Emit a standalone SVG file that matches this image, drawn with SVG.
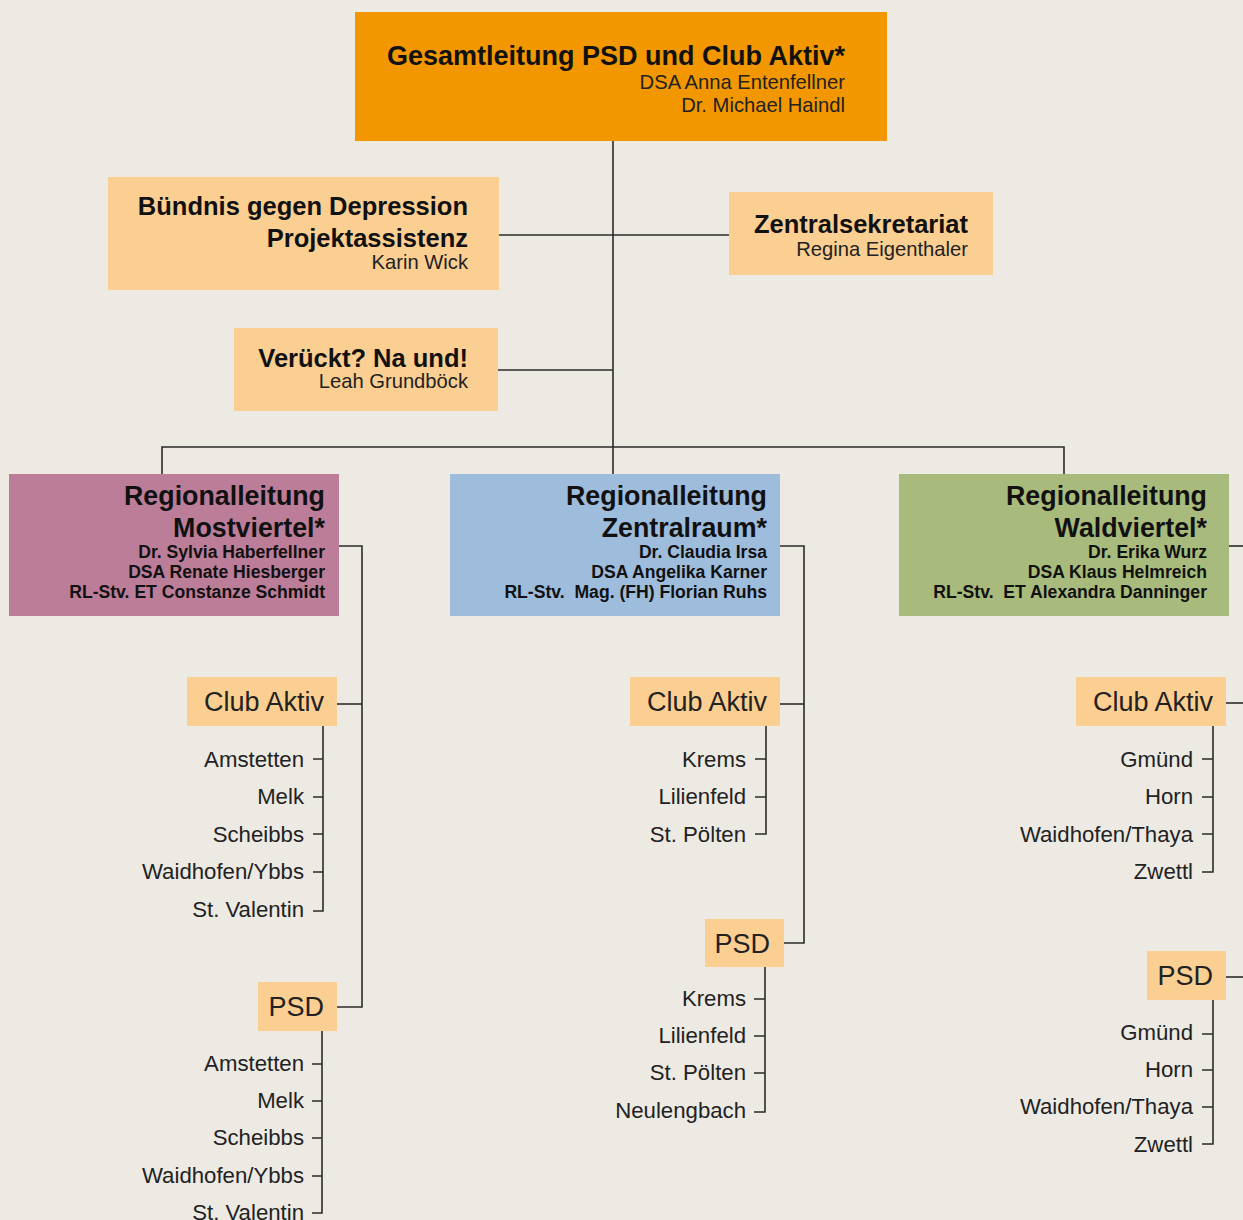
<svg xmlns="http://www.w3.org/2000/svg" width="1243" height="1220" viewBox="0 0 1243 1220">
<style>
.bg{fill:#EDE9E3}
.lead{fill:#F39700}
.soft{fill:#FBCE91}
.most{fill:#BC7D99}
.zent{fill:#9EBCDC}
.wald{fill:#A8BB7C}
text{font-family:"Liberation Sans",Arial,Helvetica,sans-serif;text-anchor:end;white-space:pre}
.h0{font-size:27px;font-weight:bold;fill:#111}
.h1{font-size:25.5px;font-weight:bold;fill:#111}
.h2{font-size:26.8px;font-weight:bold;fill:#111}
.nm{font-size:20.2px;fill:#222}
.rn{font-size:17.6px;font-weight:bold;fill:#111}
.ca{font-size:27px;fill:#222}
.loc{font-size:22.2px;fill:#222}
.ln{fill:none;stroke:#2b2b2b;stroke-width:1.6}
</style>
<rect class="bg" x="0" y="0" width="1243" height="1220"/>

<g id="connectors">
  <path class="ln" d="M613,141 V447"/>
  <path class="ln" d="M499,235 H729"/>
  <path class="ln" d="M498,370 H613"/>
  <path class="ln" d="M162,474 V447 H1064 V474"/>
  <path class="ln" d="M613,447 V474"/>
  <path class="ln" d="M339,546 H362 V1007 H337"/>
  <path class="ln" d="M337,704 H362"/>
  <path class="ln" d="M323,726 V911 H313"/>
  <path class="ln" d="M313,759 H323 M313,797 H323 M313,834 H323 M313,872 H323"/>
  <path class="ln" d="M322,1031 V1213 H312"/>
  <path class="ln" d="M312,1064 H322 M312,1101 H322 M312,1138 H322 M312,1176 H322"/>
  <path class="ln" d="M780,546 H804 V943 H784"/>
  <path class="ln" d="M780,704 H804"/>
  <path class="ln" d="M766,726 V834 H755"/>
  <path class="ln" d="M755,759 H766 M755,797 H766"/>
  <path class="ln" d="M765,967 V1112 H754"/>
  <path class="ln" d="M754,999 H765 M754,1036 H765 M754,1073 H765"/>
  <path class="ln" d="M1229,546 H1243"/>
  <path class="ln" d="M1226,703 H1243"/>
  <path class="ln" d="M1213,726 V872 H1202"/>
  <path class="ln" d="M1202,759 H1213 M1202,797 H1213 M1202,834 H1213"/>
  <path class="ln" d="M1226,977 H1243"/>
  <path class="ln" d="M1213,1000 V1144 H1202"/>
  <path class="ln" d="M1202,1034 H1213 M1202,1070 H1213 M1202,1107 H1213"/>
</g>

<g id="gesamtleitung">
  <rect class="lead" x="355" y="12" width="532" height="129"/>
  <text class="h0" x="845" y="65">Gesamtleitung PSD und Club Aktiv*</text>
  <text class="nm" x="845" y="89">DSA Anna Entenfellner</text>
  <text class="nm" x="845" y="112">Dr. Michael Haindl</text>
</g>

<g id="buendnis">
  <rect class="soft" x="108" y="177" width="391" height="113"/>
  <text class="h1" x="468" y="215">Bündnis gegen Depression</text>
  <text class="h1" x="468" y="247">Projektassistenz</text>
  <text class="nm" x="468" y="269">Karin Wick</text>
</g>

<g id="zentralsekretariat">
  <rect class="soft" x="729" y="192" width="264" height="83"/>
  <text class="h1" x="968" y="233">Zentralsekretariat</text>
  <text class="nm" x="968" y="256">Regina Eigenthaler</text>
</g>

<g id="verueckt">
  <rect class="soft" x="234" y="328" width="264" height="83"/>
  <text class="h1" x="468" y="367">Verückt? Na und!</text>
  <text class="nm" x="468" y="388">Leah Grundböck</text>
</g>

<g id="rl-mostviertel">
  <rect class="most" x="9" y="474" width="330" height="142"/>
  <text class="h2" x="325" y="505">Regionalleitung</text>
  <text class="h2" x="325" y="537">Mostviertel*</text>
  <text class="rn" x="325" y="558">Dr. Sylvia Haberfellner</text>
  <text class="rn" x="325" y="578">DSA Renate Hiesberger</text>
  <text class="rn" x="325" y="598">RL-Stv. ET Constanze Schmidt</text>
</g>

<g id="rl-zentralraum">
  <rect class="zent" x="450" y="474" width="330" height="142"/>
  <text class="h2" x="767" y="505">Regionalleitung</text>
  <text class="h2" x="767" y="537">Zentralraum*</text>
  <text class="rn" x="767" y="558">Dr. Claudia Irsa</text>
  <text class="rn" x="767" y="578">DSA Angelika Karner</text>
  <text class="rn" x="767" y="598">RL-Stv.  Mag. (FH) Florian Ruhs</text>
</g>

<g id="rl-waldviertel">
  <rect class="wald" x="899" y="474" width="330" height="142"/>
  <text class="h2" x="1207" y="505">Regionalleitung</text>
  <text class="h2" x="1207" y="537">Waldviertel*</text>
  <text class="rn" x="1207" y="558">Dr. Erika Wurz</text>
  <text class="rn" x="1207" y="578">DSA Klaus Helmreich</text>
  <text class="rn" x="1207" y="598">RL-Stv.  ET Alexandra Danninger</text>
</g>

<g id="most-club">
  <rect class="soft" x="187" y="677" width="150" height="49"/>
  <text class="ca" x="324" y="711">Club Aktiv</text>
  <text class="loc" x="304" y="767">Amstetten</text>
  <text class="loc" x="304" y="804">Melk</text>
  <text class="loc" x="304" y="842">Scheibbs</text>
  <text class="loc" x="304" y="879">Waidhofen/Ybbs</text>
  <text class="loc" x="304" y="917">St. Valentin</text>
</g>

<g id="most-psd">
  <rect class="soft" x="258" y="982" width="79" height="49"/>
  <text class="ca" x="324" y="1016">PSD</text>
  <text class="loc" x="304" y="1071">Amstetten</text>
  <text class="loc" x="304" y="1108">Melk</text>
  <text class="loc" x="304" y="1145">Scheibbs</text>
  <text class="loc" x="304" y="1183">Waidhofen/Ybbs</text>
  <text class="loc" x="304" y="1220">St. Valentin</text>
</g>

<g id="zent-club">
  <rect class="soft" x="630" y="677" width="150" height="49"/>
  <text class="ca" x="767" y="711">Club Aktiv</text>
  <text class="loc" x="746" y="767">Krems</text>
  <text class="loc" x="746" y="804">Lilienfeld</text>
  <text class="loc" x="746" y="842">St. Pölten</text>
</g>

<g id="zent-psd">
  <rect class="soft" x="705" y="919" width="79" height="48"/>
  <text class="ca" x="770" y="953">PSD</text>
  <text class="loc" x="746" y="1006">Krems</text>
  <text class="loc" x="746" y="1043">Lilienfeld</text>
  <text class="loc" x="746" y="1080">St. Pölten</text>
  <text class="loc" x="746" y="1118">Neulengbach</text>
</g>

<g id="wald-club">
  <rect class="soft" x="1076" y="677" width="150" height="49"/>
  <text class="ca" x="1213" y="711">Club Aktiv</text>
  <text class="loc" x="1193" y="767">Gmünd</text>
  <text class="loc" x="1193" y="804">Horn</text>
  <text class="loc" x="1193" y="842">Waidhofen/Thaya</text>
  <text class="loc" x="1193" y="879">Zwettl</text>
</g>

<g id="wald-psd">
  <rect class="soft" x="1147" y="951" width="79" height="49"/>
  <text class="ca" x="1213" y="985">PSD</text>
  <text class="loc" x="1193" y="1040">Gmünd</text>
  <text class="loc" x="1193" y="1077">Horn</text>
  <text class="loc" x="1193" y="1114">Waidhofen/Thaya</text>
  <text class="loc" x="1193" y="1152">Zwettl</text>
</g>
</svg>
